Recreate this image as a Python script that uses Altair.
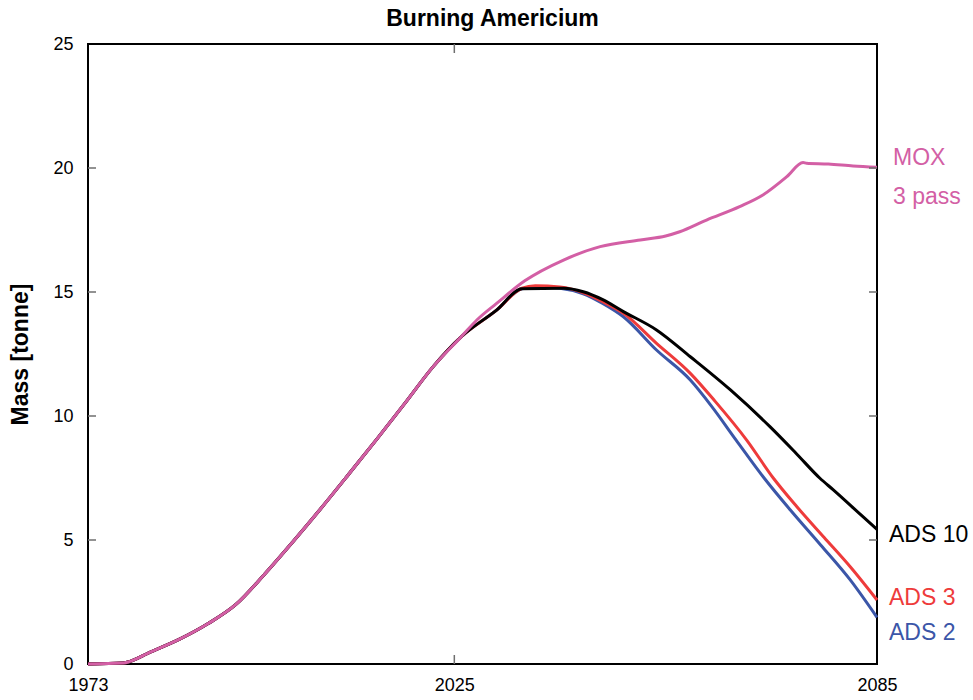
import altair as alt
import pandas as pd

# Plot area size in pixels
W, H = 789, 620

# Common build-up of americium mass (tonne) shared by all scenarios
rise_years = [1973, 1978, 1982, 1986, 1990, 1994, 1998, 2002, 2006, 2010, 2014, 2018, 2022, 2026]
rise_mass = [0.0, 0.04, 0.5, 1.0, 1.62, 2.4, 3.6, 4.9, 6.25, 7.65, 9.07, 10.52, 11.99, 13.2]

# MOX, 3 passes
mox_years = [2028.2, 2031, 2035, 2040.5, 2045.7, 2051.4, 2055, 2057, 2060.8, 2065.5,
             2068.8, 2072.2, 2074.5, 2075, 2078.1, 2081.6, 2085]
mox_mass = [13.87, 14.54, 15.45, 16.29, 16.83, 17.1, 17.26, 17.43, 17.9, 18.44,
            18.91, 19.65, 20.22, 20.19, 20.16, 20.08, 20.03]

# ADS with 10 passes
ads10_years = [2031, 2034.6, 2040.5, 2043.3, 2046, 2049, 2053.7, 2058.5, 2064.2, 2069.8,
               2073.5, 2076.9, 2078.8, 2083, 2085]
ads10_mass = [14.27, 15.13, 15.15, 15.01, 14.7, 14.21, 13.47, 12.39, 11.05, 9.57,
              8.5, 7.49, 7.02, 5.94, 5.43]

# ADS with 3 passes
ads3_years = [2031, 2034.6, 2036.5, 2040, 2043.5, 2046, 2049, 2053.7, 2058.5, 2062,
              2066.5, 2070.3, 2073.6, 2077.5, 2081.2, 2085]
ads3_mass = [14.27, 15.15, 15.25, 15.2, 14.95, 14.62, 14.14, 12.93, 11.72, 10.6,
             9.03, 7.49, 6.35, 5.1, 3.92, 2.58]

# ADS with 2 passes
ads2_years = [2031, 2034.6, 2037, 2040, 2043.3, 2046, 2049, 2053.7, 2058.5, 2061.5,
              2065, 2069, 2072.7, 2077, 2081.2, 2085]
ads2_mass = [14.27, 15.13, 15.2, 15.15, 14.93, 14.55, 14.0, 12.66, 11.45, 10.4,
             9.03, 7.49, 6.21, 4.8, 3.39, 1.88]

PINK, RED, BLUE, BLACK = "#D35FA5", "#EE3B3B", "#3B56A8", "#000000"

FONT = "Liberation Sans"


def frame(years, masses):
    return pd.DataFrame({"year": rise_years + years, "mass": rise_mass + masses})


x_scale = alt.Scale(domain=[1973, 2085], nice=False, zero=False)
y_scale = alt.Scale(domain=[0, 25], nice=False)
x_axis = alt.Axis(values=[1973, 2025, 2085], format="d", title=None, tickSize=0,
                  labelPadding=12, labelFlush=False, domain=False, grid=False,
                  labelFontSize=18, labelFont=FONT, labelColor="black")
y_axis = alt.Axis(values=[0, 5, 10, 15, 20, 25], title="Mass [tonne]", tickSize=0,
                  labelPadding=15, labelFlush=False, domain=False, grid=False,
                  labelFontSize=18, labelFont=FONT, labelColor="black", titleFont=FONT,
                  titleFontSize=23, titleFontWeight="bold", titleColor="black",
                  titlePadding=20)


def X(field):
    return alt.X(field, scale=x_scale, axis=x_axis)


def Y(field):
    return alt.Y(field, scale=y_scale, axis=y_axis)


def series_line(df, color):
    return alt.Chart(df).mark_line(color=color, strokeWidth=3, interpolate="monotone").encode(
        x=X("year:Q"), y=Y("mass:Q"))


lines = [
    series_line(frame(ads2_years, ads2_mass), BLUE),
    series_line(frame(ads3_years, ads3_mass), RED),
    series_line(frame(ads10_years, ads10_mass), BLACK),
    series_line(frame(mox_years, mox_mass), PINK),
]

# Inward-pointing tick marks on all four sides of the frame
y_ticks = pd.DataFrame({"v": [5, 10, 15, 20]})
x_ticks = pd.DataFrame({"v": [2025]})
tick_style = dict(color="#6E6E6E", strokeWidth=1.5)
ticks = [
    alt.Chart(y_ticks).mark_rule(**tick_style).encode(
        y=Y("v:Q"), x=alt.value(0), x2=alt.value(8)),
    alt.Chart(y_ticks).mark_rule(**tick_style).encode(
        y=Y("v:Q"), x=alt.value(W - 8), x2=alt.value(W)),
    alt.Chart(x_ticks).mark_rule(**tick_style).encode(
        x=X("v:Q"), y=alt.value(H - 9), y2=alt.value(H)),
    alt.Chart(x_ticks).mark_rule(**tick_style).encode(
        x=X("v:Q"), y=alt.value(0), y2=alt.value(9)),
]

# Series names at the right-hand end of the curves
mox_labels = pd.DataFrame({"text": ["MOX", "3 pass"], "pos": [20.4, 18.85]})
ads_labels = pd.DataFrame({"text": ["ADS 10", "ADS 3", "ADS 2"],
                           "pos": [5.2, 2.65, 1.25],
                           "color": [BLACK, RED, BLUE]})
labels = [
    alt.Chart(mox_labels).mark_text(align="left", baseline="middle", fontSize=23,
                                    font=FONT, color=PINK).encode(
        x=alt.value(W + 16), y=Y("pos:Q"), text="text:N"),
    alt.Chart(ads_labels).mark_text(align="left", baseline="middle", fontSize=23,
                                    font=FONT).encode(
        x=alt.value(W + 12), y=Y("pos:Q"), text="text:N",
        color=alt.Color("color:N", scale=None)),
]

chart = alt.layer(*lines, *ticks, *labels).properties(
    width=W,
    height=H,
    title=alt.TitleParams("Burning Americium", fontSize=23, font=FONT, fontWeight="bold",
                          color="black", offset=4, dx=10, anchor="middle"),
    padding={"left": 88, "top": 44, "right": 96, "bottom": 36},
    autosize="none",
).configure(background="white").configure_view(stroke="black", strokeWidth=2)

chart.save("out.html", embed_options={"renderer": "svg", "actions": False})
